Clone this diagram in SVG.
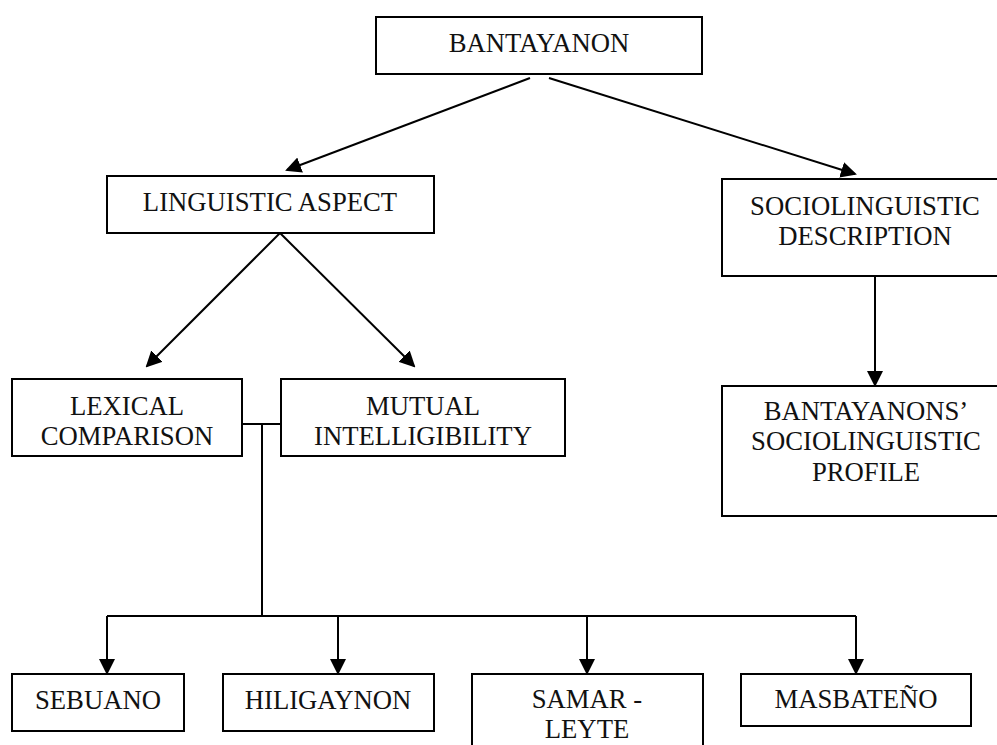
<svg xmlns="http://www.w3.org/2000/svg" width="997" height="745" viewBox="0 0 997 745">
<defs>
<style>
.box{fill:#fff;stroke:#000;stroke-width:2}
.t{font-family:"Liberation Serif","Times New Roman",serif;font-size:26.7px;fill:#111;text-anchor:middle}
.c{fill:none;stroke:#000;stroke-width:2}
</style>
<marker id="ah" markerUnits="userSpaceOnUse" markerWidth="16" markerHeight="16" refX="14" refY="8" orient="auto">
<path d="M0,0 L16,8 L0,16 z" fill="#000"/>
</marker>
</defs>
<rect width="997" height="745" fill="#fff"/>
<g id="connectors">
<line class="c" x1="530" y1="78" x2="287" y2="170" marker-end="url(#ah)"/>
<line class="c" x1="549" y1="78" x2="855" y2="174" marker-end="url(#ah)"/>
<line class="c" x1="280" y1="233" x2="147" y2="366" marker-end="url(#ah)"/>
<line class="c" x1="280" y1="233" x2="414" y2="366" marker-end="url(#ah)"/>
<line class="c" x1="875" y1="270" x2="875" y2="385" marker-end="url(#ah)"/>
<polyline class="c" points="242,424 281,424"/>
<polyline class="c" points="262,424 262,616"/>
<polyline class="c" points="107,616 856,616"/>
<line class="c" x1="107" y1="616" x2="107" y2="673" marker-end="url(#ah)"/>
<line class="c" x1="338" y1="616" x2="338" y2="673" marker-end="url(#ah)"/>
<line class="c" x1="587" y1="616" x2="587" y2="673" marker-end="url(#ah)"/>
<line class="c" x1="856" y1="616" x2="856" y2="673" marker-end="url(#ah)"/>
</g>
<g id="bantayanon">
<rect class="box" x="376" y="17" width="326" height="57"/>
<text class="t" x="539" y="52">BANTAYANON</text>
</g>
<g id="linguistic-aspect">
<rect class="box" x="107" y="176" width="327" height="57"/>
<text class="t" x="270" y="211">LINGUISTIC ASPECT</text>
</g>
<g id="sociolinguistic-description">
<rect class="box" x="722" y="179" width="286" height="97"/>
<text class="t" x="865" y="215">SOCIOLINGUISTIC</text>
<text class="t" x="865" y="245">DESCRIPTION</text>
</g>
<g id="lexical-comparison">
<rect class="box" x="12" y="379" width="230" height="77"/>
<text class="t" x="127" y="415">LEXICAL</text>
<text class="t" x="127" y="445">COMPARISON</text>
</g>
<g id="mutual-intelligibility">
<rect class="box" x="281" y="379" width="284" height="77"/>
<text class="t" x="423" y="415">MUTUAL</text>
<text class="t" x="423" y="445">INTELLIGIBILITY</text>
</g>
<g id="sociolinguistic-profile">
<rect class="box" x="722" y="386" width="286" height="130"/>
<text class="t" x="866" y="420">BANTAYANONS’</text>
<text class="t" x="866" y="450">SOCIOLINGUISTIC</text>
<text class="t" x="866" y="481">PROFILE</text>
</g>
<g id="sebuano">
<rect class="box" x="12" y="674" width="172" height="57"/>
<text class="t" x="98" y="709">SEBUANO</text>
</g>
<g id="hiligaynon">
<rect class="box" x="223" y="674" width="211" height="57"/>
<text class="t" x="328" y="709">HILIGAYNON</text>
</g>
<g id="samar-leyte">
<rect class="box" x="472" y="674" width="231" height="90"/>
<text class="t" x="587" y="708">SAMAR -</text>
<text class="t" x="587" y="738">LEYTE</text>
</g>
<g id="masbateno">
<rect class="box" x="741" y="674" width="230" height="52"/>
<text class="t" x="856" y="708">MASBATEÑO</text>
</g>
</svg>
